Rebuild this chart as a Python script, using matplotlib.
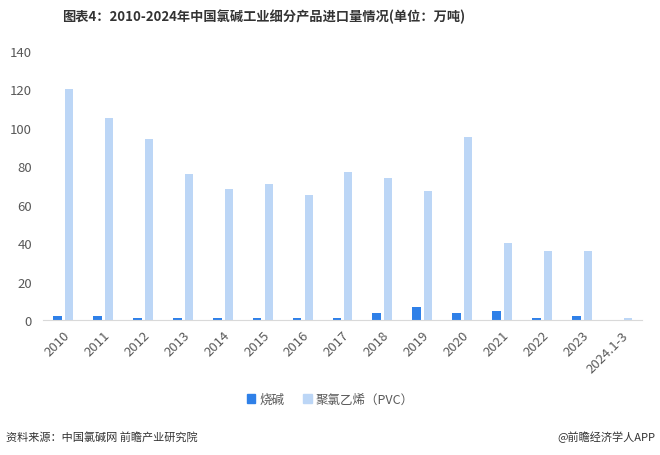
#!/usr/bin/env python3
"""China chlor-alkali sub-product imports 2010-2024 (grouped bars)."""
import numpy as np
import matplotlib
matplotlib.use("Agg")
import matplotlib.pyplot as plt
from matplotlib.patches import Patch

plt.rcParams['font.family'] = ['Noto Sans CJK SC', 'DejaVu Sans']

years = ['2010', '2011', '2012', '2013', '2014', '2015', '2016', '2017',
         '2018', '2019', '2020', '2021', '2022', '2023', '2024.1-3']
caustic = [2.0, 2.0, 0.8, 0.8, 0.8, 0.8, 0.8, 0.8, 3.8, 6.9, 3.8, 4.7, 0.8, 2.2, 0.0]
pvc = [120, 105, 94, 76, 68, 71, 65, 77, 74, 67, 95, 40, 36, 36, 0.8]

C_CAUSTIC = '#2f80e8'
C_PVC = '#bcd6f6'
C_TEXT = '#595959'

fig = plt.figure(figsize=(6.6, 4.56), dpi=100)
ax = fig.add_axes([43 / 660, 1 - 321 / 456, 599 / 660, (321 - 52) / 456])

x = np.arange(len(years))
ax.bar(x - 0.14, caustic, width=0.22, color=C_CAUSTIC)
ax.bar(x + 0.15, pvc, width=0.2, color=C_PVC)

ax.set_xlim(-0.5, len(years) - 0.5)
ax.set_ylim(0, 140)
ax.set_yticks(range(0, 141, 20))
ax.set_xticks(x)
ax.set_xticklabels(years, rotation=45, ha='right', rotation_mode='anchor')
ax.tick_params(axis='both', length=0, labelsize=9.5, colors=C_TEXT)
ax.tick_params(axis='x', pad=6)
ax.tick_params(axis='y', pad=8)
for s in ['top', 'right', 'left']:
    ax.spines[s].set_visible(False)
ax.spines['bottom'].set_color('#d9d9d9')

fig.text(0.4, 1 - 17 / 456, '图表4：2010-2024年中国氯碱工业细分产品进口量情况(单位：万吨)',
         ha='center', va='center', fontsize=9.5, fontweight='bold', color='#333333')

legend_elements = [Patch(color=C_CAUSTIC, label='烧碱'),
                   Patch(color=C_PVC, label='聚氯乙烯（PVC）')]
fig.legend(handles=legend_elements, loc='center', ncol=2, frameon=False, fontsize=9,
           bbox_to_anchor=(0.5, 1 - 400 / 456), handlelength=0.7, handleheight=0.7,
           handletextpad=0.3, columnspacing=1.5, labelcolor=C_TEXT)

fig.text(6 / 660, 1 - 437 / 456, '资料来源：中国氯碱网 前瞻产业研究院',
         ha='left', va='center', fontsize=8, color='#333333')
fig.text(655 / 660, 1 - 437 / 456, '@前瞻经济学人APP',
         ha='right', va='center', fontsize=8, color='#333333')

fig.savefig('out.png', dpi=100)
plt.close()
